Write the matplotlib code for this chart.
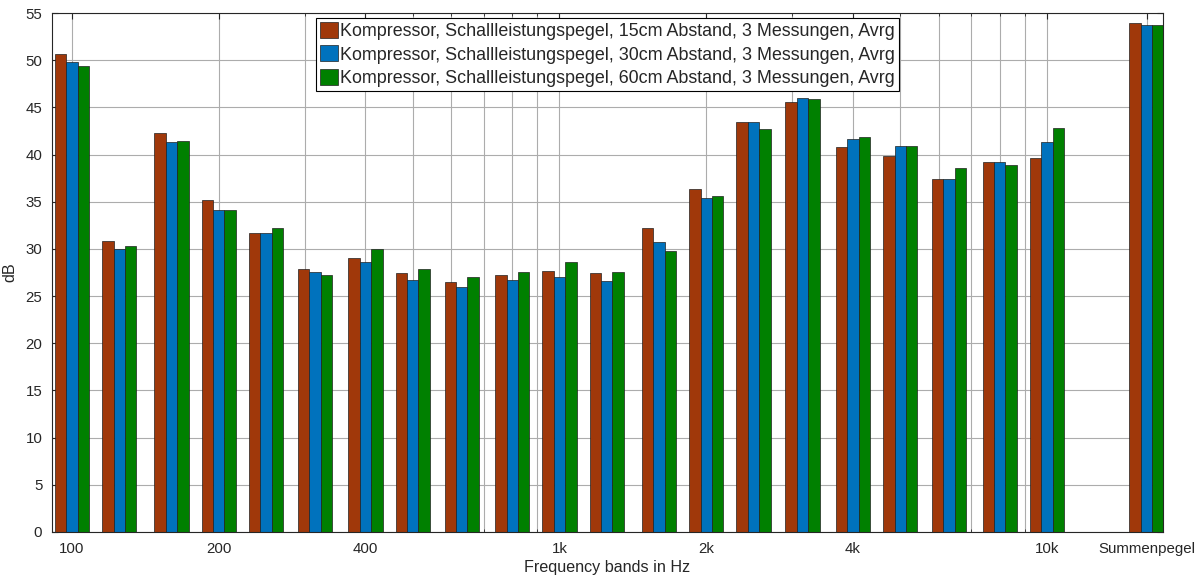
import numpy as np
import matplotlib
matplotlib.use("Agg")
import matplotlib.pyplot as plt
from matplotlib.ticker import LogLocator, NullFormatter

# third-octave bands, last slot = Summenpegel (placed at 16 kHz)
freqs = [100, 125, 160, 200, 250, 315, 400, 500, 630, 800, 1000, 1250, 1600,
         2000, 2500, 3150, 4000, 5000, 6300, 8000, 10000, 16000]

lw_15cm = [50.7, 30.8, 42.3, 35.2, 31.7, 27.9, 29.0, 27.4, 26.5, 27.2, 27.7, 27.4, 32.2,
           36.3, 43.5, 45.6, 40.8, 39.8, 37.4, 39.2, 39.6, 53.9]
lw_30cm = [49.8, 30.0, 41.3, 34.1, 31.7, 27.5, 28.6, 26.7, 26.0, 26.7, 27.0, 26.6, 30.7,
           35.4, 43.5, 46.0, 41.7, 40.9, 37.4, 39.2, 41.3, 53.7]
lw_60cm = [49.4, 30.3, 41.4, 34.1, 32.2, 27.2, 30.0, 27.9, 27.0, 27.5, 28.6, 27.5, 29.8,
           35.6, 42.7, 45.9, 41.9, 40.9, 38.6, 38.9, 42.8, 53.7]

labels = ["Kompressor, Schallleistungspegel, 15cm Abstand, 3 Messungen, Avrg",
          "Kompressor, Schallleistungspegel, 30cm Abstand, 3 Messungen, Avrg",
          "Kompressor, Schallleistungspegel, 60cm Abstand, 3 Messungen, Avrg"]
colors = ["#A0380A", "#0072BD", "#008000"]

tick_pos = [100, 200, 400, 1000, 2000, 4000, 10000, 16000]
tick_lab = ["100", "200", "400", "1k", "2k", "4k", "10k", "Summenpegel"]

plt.rcParams["font.family"] = ["Liberation Sans", "DejaVu Sans"]
txt = "#262626"

fig = plt.figure(figsize=(12.01, 5.78), dpi=100)
ax = fig.add_axes([0.0433, 0.0796, 0.9251, 0.8979])

# bar width in decades on the log axis
bw = 0.0234
logf = np.log10(freqs)
for i, (vals, lab, col) in enumerate(zip([lw_15cm, lw_30cm, lw_60cm], labels, colors)):
    left = 10 ** (logf + (i - 1.5) * bw)
    right = 10 ** (logf + (i - 0.5) * bw)
    ax.bar(left, vals, width=right - left, align="edge", color=col,
           edgecolor="#202020", linewidth=0.5, label=lab)

ax.set_xscale("log")
ax.set_xlim(91, 17300)
ax.set_ylim(0, 55)
ax.set_yticks(np.arange(0, 56, 5))
ax.set_xticks(tick_pos)
ax.set_xticklabels(tick_lab)
ax.xaxis.set_minor_locator(LogLocator(base=10, subs=np.arange(2, 10)))
ax.xaxis.set_minor_formatter(NullFormatter())

ax.set_axisbelow(True)
ax.grid(True, which="both", axis="x", color="#acacac", linewidth=0.8)
ax.grid(True, which="major", axis="y", color="#acacac", linewidth=0.8)

ax.tick_params(which="both", direction="in", top=True, right=True,
               colors=txt, labelsize=10.8, pad=7)
ax.tick_params(which="major", length=4, width=0.8)
ax.tick_params(which="minor", length=2.5, width=0.6)
for s in ax.spines.values():
    s.set_color(txt)
    s.set_linewidth(0.8)

ax.set_xlabel("Frequency bands in Hz", fontsize=11.6, color=txt, labelpad=3)
ax.set_ylabel("dB", fontsize=11.6, color=txt, labelpad=6)

leg = ax.legend(loc="upper center", bbox_to_anchor=(0.5, 0.995), fontsize=12.9,
                frameon=True, fancybox=False, framealpha=1, edgecolor="black",
                handlelength=1.0, handleheight=1.0, handletextpad=0.15,
                labelspacing=0.3, borderpad=0.2, borderaxespad=0.15)
leg.get_frame().set_linewidth(0.8)
for t in leg.get_texts():
    t.set_color(txt)

fig.savefig("out.png", dpi=100)
